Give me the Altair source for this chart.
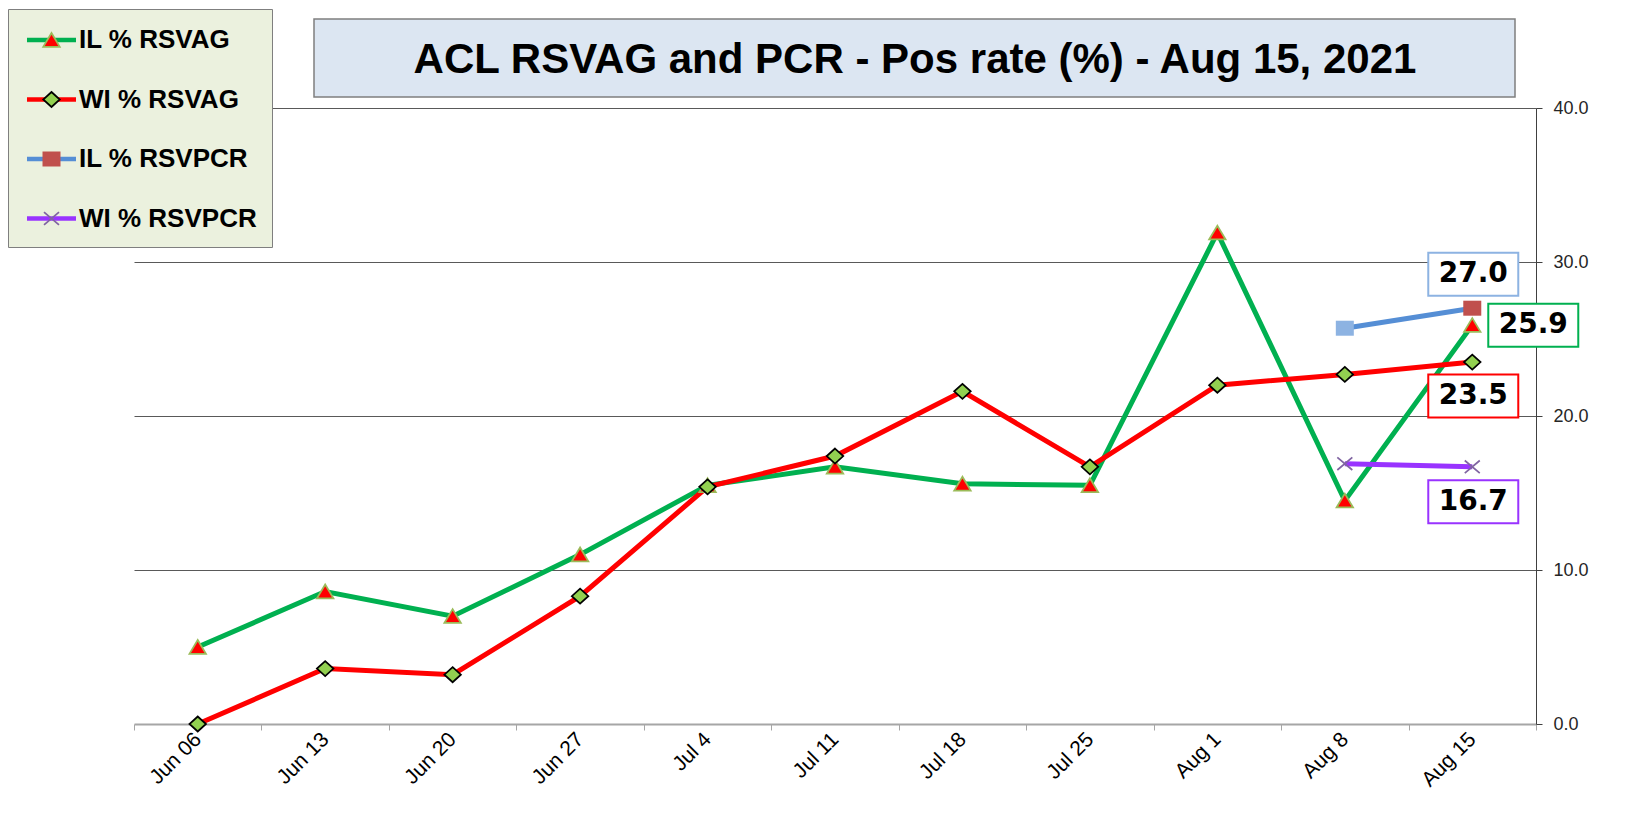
import altair as alt
import pandas as pd

# ---------------- data ----------------
weeks = ["Jun 06", "Jun 13", "Jun 20", "Jun 27", "Jul 4", "Jul 11",
         "Jul 18", "Jul 25", "Aug 1", "Aug 8", "Aug 15"]
series_names = ["IL % RSVAG", "WI % RSVAG", "IL % RSVPCR", "WI % RSVPCR"]
il_rsvag = [5.0, 8.6, 7.0, 11.0, 15.5, 16.7, 15.6, 15.5, 31.9, 14.5, 25.9]
wi_rsvag = [0.0, 3.6, 3.2, 8.3, 15.4, 17.4, 21.6, 16.7, 22.0, 22.7, 23.5]
il_rsvpcr = [None, None, None, None, None, None, None, None, None, 25.7, 27.0]
wi_rsvpcr = [None, None, None, None, None, None, None, None, None, 16.9, 16.7]
y_ticks = [0, 10, 20, 30, 40]
title_text = "ACL RSVAG and PCR - Pos rate (%) - Aug 15, 2021"

# ---------------- styles ----------------
line_colors = ["#00b050", "#ff0000", "#558ed5", "#9933ff"]
marker_fill = ["#ff0000", "#92d050", "#c0504d", "#8064a2"]
marker_stroke = ["#9bbb59", "#000000", "transparent", "#8064a2"]
ext = "M-1.633,0M1.633,0"
marker_paths = [
    ext + "M0,-0.47L0.55,0.45L-0.55,0.45Z",
    ext + "M0,-0.5L0.55,0L0,0.5L-0.55,0Z",
    ext + "M-0.6,-0.5L0.6,-0.5L0.6,0.5L-0.6,0.5Z",
    ext + "M-0.5,-0.42L0.5,0.42M0.5,-0.42L-0.5,0.42",
]
mk_names = [s + " " for s in series_names]

rows = []
for name, vals in zip(series_names, [il_rsvag, wi_rsvag, il_rsvpcr, wi_rsvpcr]):
    for w, v in zip(weeks, vals):
        if v is not None:
            rows.append({"week": w, "series": name, "mk": name + " ", "value": v})
df = pd.DataFrame(rows)

base = alt.Chart(df)

x = alt.X(
    "week:N",
    scale=alt.Scale(type="band", domain=weeks, paddingInner=0, paddingOuter=0),
    bandPosition=0.5,
    axis=alt.Axis(
        title=None, labelAngle=-45, labelAlign="right", labelBaseline="middle",
        labelPadding=6, labelFont="Liberation Sans", labelFontSize=21,
        labelColor="#000000", tickBand="extent", tickColor="#a6a6a6",
        tickSize=6, tickWidth=1, domainColor="#a6a6a6", domainWidth=2,
        grid=False, labelOverlap=False,
    ),
)
y = alt.Y(
    "value:Q",
    scale=alt.Scale(domain=[0, 40], nice=False),
    axis=alt.Axis(
        orient="right", values=y_ticks, format=".1f", title=None, grid=True,
        gridColor={"condition": {"test": "datum.value === 0", "value": "transparent"},
                   "value": "#595959"},
        gridWidth=1, domainColor="#404040", tickColor="#404040", tickSize=6,
        labelPadding=11, labelFont="Liberation Sans", labelFontSize=18,
        labelColor="#262626",
    ),
)

common_leg = dict(
    orient="none", legendX=-126, legendY=-99, title=None, padding=15,
    rowPadding=30.5, symbolOffset=12.5, labelOffset=11.5, labelFont="Liberation Sans",
    labelFontSize=26, labelFontWeight="bold", labelColor="#000000",
    labelLimit=400,
)
line_leg = alt.Legend(
    symbolType="M-1.815,0L1.815,0", symbolSize=729, symbolStrokeWidth=4.5,
    fillColor="#ebf1de", strokeColor="#7f7f7f", **common_leg,
)
mk_leg = dict(symbolSize=900, symbolStrokeWidth=1.75, labelExpr="' '", **common_leg)

lines = base.mark_line(strokeWidth=5).encode(
    x=x, y=y,
    color=alt.Color("series:N", scale=alt.Scale(domain=series_names, range=line_colors),
                    legend=line_leg),
)

markers = base.mark_point(filled=True, opacity=1, size=900, strokeWidth=1.75).encode(
    x=x, y=y,
    shape=alt.Shape("mk:N", scale=alt.Scale(domain=mk_names, range=marker_paths),
                    legend=alt.Legend(**mk_leg)),
    fill=alt.condition(
        "datum.series === 'IL % RSVPCR' && datum.week === 'Aug 8'",
        alt.value("#8db3e2"),
        alt.Fill("mk:N", scale=alt.Scale(domain=mk_names, range=marker_fill),
                 legend=alt.Legend(**mk_leg)),
    ),
    stroke=alt.Stroke("mk:N", scale=alt.Scale(domain=mk_names, range=marker_stroke),
                      legend=alt.Legend(**mk_leg)),
)

label_specs = [
    ("IL % RSVPCR", 1, -34, "#8db3e2"),
    ("IL % RSVAG", 61, 0, "#00b050"),
    ("WI % RSVAG", 1, 34, "#ff0000"),
    ("WI % RSVPCR", 1, 35, "#9933ff"),
]
box_path = "M-1,-0.478L1,-0.478L1,0.478L-1,0.478Z"
label_layers = []
for s, dx, dy, col in label_specs:
    sub = base.transform_filter(f"datum.week === 'Aug 15' && datum.series === '{s}'")
    box = sub.mark_point(shape=box_path, size=8100, filled=True, fill="white",
                         stroke=col, strokeWidth=2, opacity=1,
                         xOffset=dx, yOffset=dy).encode(x=x, y=y)
    txt = sub.mark_text(font="DejaVu Sans", fontWeight="bold", fontSize=28,
                        color="#000000", dx=dx, dy=dy, baseline="middle",
                        align="center").encode(
        x=x, y=y, text=alt.Text("value:Q", format=".1f"))
    label_layers += [box, txt]

tdata = alt.Data(values=[{"t": title_text}])
title_rect = alt.Chart(tdata).mark_rect(fill="#dce6f2", stroke="#7f7f7f",
                                        strokeWidth=1.5).encode(
    x=alt.value(180), x2=alt.value(1381), y=alt.value(-89), y2=alt.value(-11))
title_txt = alt.Chart(tdata).mark_text(font="Liberation Sans", fontWeight="bold",
                                       fontSize=42, align="center",
                                       baseline="alphabetic", color="#000000").encode(
    x=alt.value(781), y=alt.value(-35), text="t:N")

chart = alt.layer(lines, markers, *label_layers, title_rect, title_txt).properties(
    width=1402, height=616,
    autosize=alt.AutoSizeParams(type="none"),
    padding={"left": 126, "top": 100, "right": 90, "bottom": 85},
    background="white",
).configure_view(stroke=None)

chart.save("out.html", embed_options={"renderer": "svg", "actions": False})
